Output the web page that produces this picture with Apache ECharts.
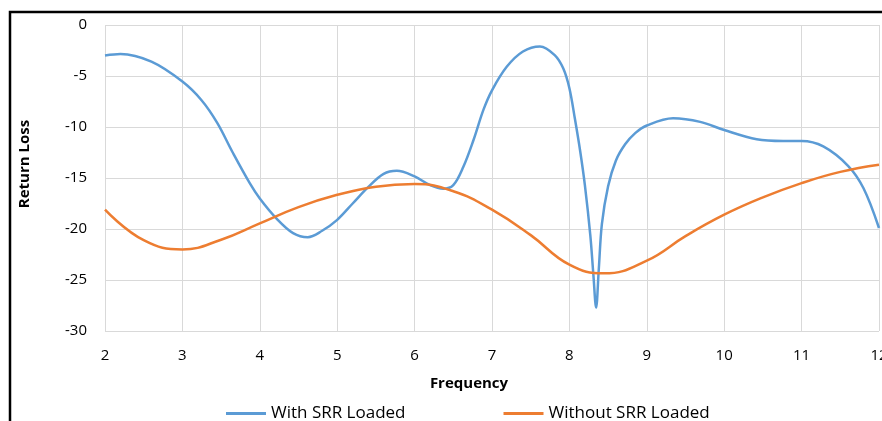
<!DOCTYPE html>
<html>
<head>
<meta charset="utf-8">
<script src="https://cdn.jsdelivr.net/npm/echarts@6/dist/echarts.min.js"></script>
<style>
html,body{margin:0;padding:0;background:#fff;}
#c{width:882px;height:421px;}
</style>
</head>
<body>
<div id="c"></div>
<script>
// Frequency / return loss values
const withSrrX = [2.0,2.2,2.6,3.0,3.25,3.45,3.65,3.87,4.0,4.22,4.43,4.62,4.8,5.0,5.2,5.4,5.6,5.77,6.0,6.2,6.37,6.5,6.63,6.76,6.89,7.0,7.19,7.4,7.62,7.81,7.92,8.0,8.07,8.14,8.2,8.27,8.31,8.345,8.38,8.42,8.5,8.6,8.72,8.85,9.0,9.34,9.69,10.0,10.42,10.76,11.0,11.28,11.6,11.8,12.0];
const withSrrY = [-3.0,-2.85,-3.6,-5.55,-7.4,-9.6,-12.5,-15.5,-17.0,-19.0,-20.4,-20.8,-20.2,-19.1,-17.5,-15.9,-14.6,-14.3,-14.85,-15.7,-16.05,-15.7,-13.9,-11.3,-8.3,-6.4,-4.1,-2.6,-2.1,-2.95,-4.25,-6.2,-9.15,-12.4,-15.7,-20.6,-24.5,-27.7,-23.9,-19.5,-15.8,-13.3,-11.7,-10.6,-9.85,-9.15,-9.5,-10.3,-11.2,-11.37,-11.37,-11.9,-13.8,-16.0,-19.9];
const withoutSrrX = [2.0,2.5,3.0,3.5,4.0,4.5,5.0,5.5,6.0,6.5,7.0,7.5,8.0,8.45,9.0,9.5,10.0,10.5,11.0,11.5,12.0];
const withoutSrrY = [-18.1,-21.1,-22.0,-21.05,-19.45,-17.85,-16.65,-15.85,-15.6,-16.3,-18.1,-20.6,-23.5,-24.35,-23.1,-20.7,-18.6,-16.9,-15.5,-14.4,-13.7];
const seriesNames = ['With SRR Loaded','Without SRR Loaded'];
const xTitle = 'Frequency';
const yTitle = 'Return Loss';

const zip = (xs, ys) => xs.map((x, i) => [x, ys[i]]);
const font = '"Open Sans", "Noto Sans", sans-serif';

const chart = echarts.init(document.getElementById('c'), null, {renderer: 'canvas'});
chart.setOption({
  animation: false,
  backgroundColor: '#fff',
  grid: {left: 105, right: 3, top: 25, bottom: 90, containLabel: false, outerBoundsMode: 'none'},
  graphic: [
    {type: 'rect', shape: {x: 10, y: 12, width: 1000, height: 1000}, style: {fill: 'none', stroke: '#000', lineWidth: 2.5}, silent: true},
    {type: 'text', x: 25, y: 164, rotation: Math.PI / 2,
     style: {text: yTitle, font: 'bold 15px ' + font, fill: '#000', textAlign: 'center', textVerticalAlign: 'middle'}},
    {type: 'text', x: 469, y: 384,
     style: {text: xTitle, font: 'bold 15px ' + font, fill: '#000', textAlign: 'center', textVerticalAlign: 'middle'}}
  ],
  xAxis: {
    type: 'value', min: 2, max: 12, interval: 1,
    axisLine: {show: false}, axisTick: {show: false},
    axisLabel: {fontFamily: font, fontSize: 15, color: '#000', margin: 17},
    splitLine: {show: true, lineStyle: {color: '#d9d9d9', width: 1}}
  },
  yAxis: {
    type: 'value', min: -30, max: 0, interval: 5,
    axisLine: {show: false}, axisTick: {show: false},
    axisLabel: {fontFamily: font, fontSize: 15, color: '#000', margin: 18},
    splitLine: {show: true, lineStyle: {color: '#d9d9d9', width: 1}}
  },
  legend: {
    left: 226, top: 405, itemGap: 98, itemWidth: 40, itemHeight: 3, icon: 'rect', padding: 0,
    textStyle: {fontFamily: font, fontSize: 17, color: '#000'},
    data: seriesNames
  },
  series: [
    {name: seriesNames[0], type: 'line', data: zip(withSrrX, withSrrY), smooth: 0.35, symbol: 'none',
     lineStyle: {color: '#5B9BD5', width: 2.5}, itemStyle: {color: '#5B9BD5'}},
    {name: seriesNames[1], type: 'line', data: zip(withoutSrrX, withoutSrrY), smooth: 0.45, symbol: 'none',
     lineStyle: {color: '#ED7D31', width: 2.5}, itemStyle: {color: '#ED7D31'}}
  ]
});
</script>
</body>
</html>
